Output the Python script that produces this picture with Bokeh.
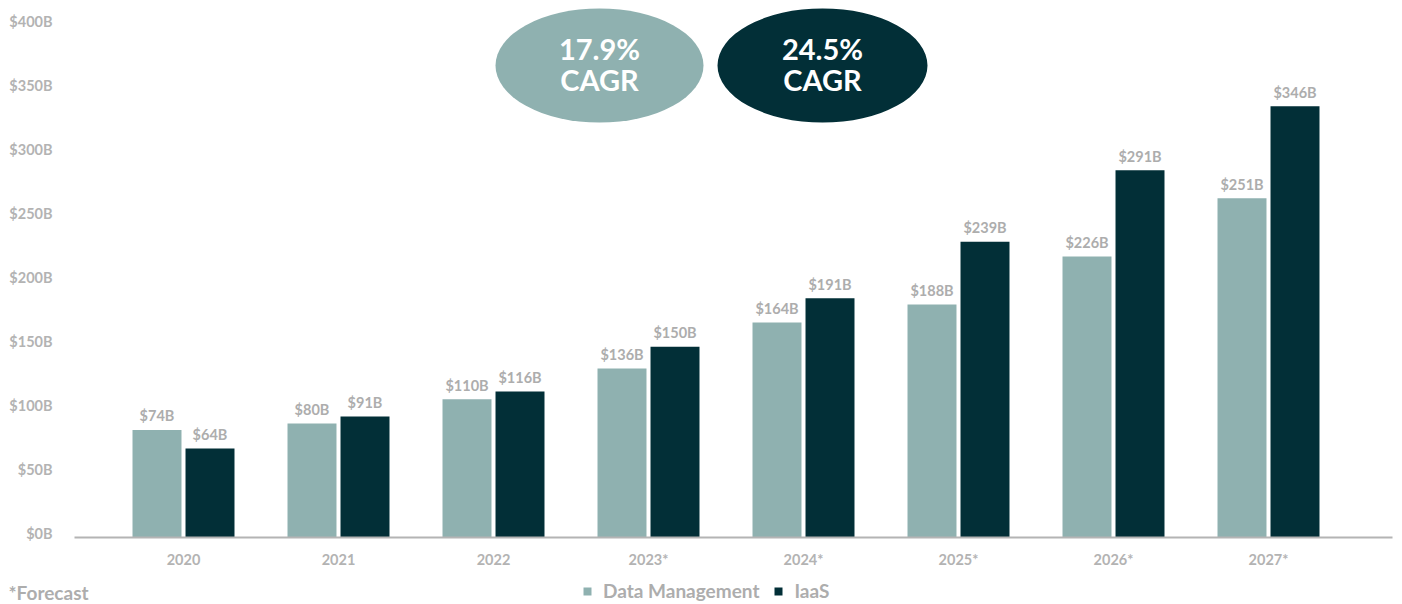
from bokeh.plotting import figure
from bokeh.models import ColumnDataSource, Legend, LegendItem, Label
from bokeh.core.properties import value
from bokeh.embed import file_html
from bokeh.resources import INLINE

# ---- data ----
years = ["2020", "2021", "2022", "2023*", "2024*", "2025*", "2026*", "2027*"]
dm_labels = ["$74B", "$80B", "$110B", "$136B", "$164B", "$188B", "$226B", "$251B"]
iaas_labels = ["$64B", "$91B", "$116B", "$150B", "$191B", "$239B", "$291B", "$346B"]
# bar heights as drawn in the picture (billions)
dm_heights = [84, 89, 108, 132, 168, 182, 219.5, 265]
iaas_heights = [69.5, 94.5, 114, 149, 187, 231, 287, 337]
y_ticks = [0, 50, 100, 150, 200, 250, 300, 350, 400]
y_tick_labels = ["$0B", "$50B", "$100B", "$150B", "$200B", "$250B", "$300B", "$350B", "$400B"]
cagr_values = ["17.9%", "24.5%"]
series_names = ["Data Management", "IaaS"]

# ---- styles ----
FONT = "Lato"
LIGHT = "#8FB1B0"
DARK = "#022F37"
GREY = "#B3B3B3"
LABEL_GREY = "#ADADAD"

W, H = 1402, 604
PX_X = 155.0          # px per category
PX_Y = 1.28           # px per $1B
X0_PX, Y0_PX = 183.0, 537.0   # pixel position of first category / zero line
xmin = -X0_PX / PX_X
xmax = xmin + W / PX_X
ymax = Y0_PX / PX_Y
ymin = -(H - Y0_PX) / PX_Y


def xpx(px):
    return px / PX_X + xmin


idx = list(range(len(years)))
off = 0.171
bw = 0.316

dm_src = ColumnDataSource(dict(x=[i - off for i in idx], top=dm_heights, label=dm_labels))
ia_src = ColumnDataSource(dict(x=[i + off for i in idx], top=iaas_heights, label=iaas_labels))

p = figure(width=W, height=H, x_range=(xmin, xmax), y_range=(ymin, ymax),
           output_backend="svg", toolbar_location=None,
           x_axis_location=None, y_axis_location=None,
           min_border=0)
p.outline_line_color = None
p.background_fill_color = "white"
p.border_fill_color = "white"
p.grid.visible = False

r_dm = p.vbar(x="x", top="top", width=bw, source=dm_src, fill_color=LIGHT, line_color=None)
r_ia = p.vbar(x="x", top="top", width=bw, source=ia_src, fill_color=DARK, line_color=None)

for src in (dm_src, ia_src):
    p.text(x="x", y="top", text="label", source=src, text_align="center",
           text_baseline="middle", y_offset=-14, text_font=value(FONT),
           text_font_style="bold", text_font_size="14.5px", text_color=LABEL_GREY)

# baseline (x axis line)
p.segment(x0=[xpx(74)], y0=[0], x1=[xpx(1392)], y1=[0], line_color="#B4B4B4", line_width=2)

# y tick labels
p.text(x=[xpx(52)] * len(y_ticks), y=y_ticks, text=y_tick_labels, text_align="right",
       text_baseline="middle", y_offset=-4, text_font=value(FONT), text_font_style="bold",
       text_font_size="14.5px", text_color=GREY)

# x tick labels
p.text(x=idx, y=[0] * len(idx), text=years, text_align="center", text_baseline="middle",
       y_offset=22, text_font=value(FONT), text_font_style="bold",
       text_font_size="14.5px", text_color=GREY)

# CAGR ellipses
cx = [xpx(599), xpx(822)]
cy = [(Y0_PX - 65) / PX_Y] * 2
p.ellipse(x=cx, y=cy, width=[208 / PX_X, 210 / PX_X], height=[114 / PX_Y] * 2,
          fill_color=[LIGHT, DARK], line_color=None)
p.text(x=cx, y=cy, text=cagr_values, text_align="center",
       text_baseline="middle", y_offset=-17, text_font=value(FONT), text_font_style="bold",
       text_font_size="29px", text_color="white")
p.text(x=cx, y=cy, text=["CAGR", "CAGR"], text_align="center",
       text_baseline="middle", y_offset=14, text_font=value(FONT), text_font_style="bold",
       text_font_size="29px", text_color="white")

# footnote
p.add_layout(Label(x=8, y=H - 592, x_units="screen", y_units="screen", text="*Forecast",
                   text_font=FONT, text_font_size="19px", text_color=LABEL_GREY,
                   text_baseline="middle", text_font_style="bold"))

legend = Legend(items=[LegendItem(label=series_names[0], renderers=[r_dm]),
                       LegendItem(label=series_names[1], renderers=[r_ia])],
                location=(582, 2), orientation="horizontal",
                glyph_width=10, glyph_height=10, label_standoff=11, spacing=14,
                padding=0, margin=0, border_line_color=None, background_fill_alpha=0,
                label_text_font=FONT, label_text_font_size="19px", label_text_font_style="bold",
                label_text_color=LABEL_GREY, label_height=10)
p.add_layout(legend)

open("out.html", "w").write(file_html(p, INLINE))
